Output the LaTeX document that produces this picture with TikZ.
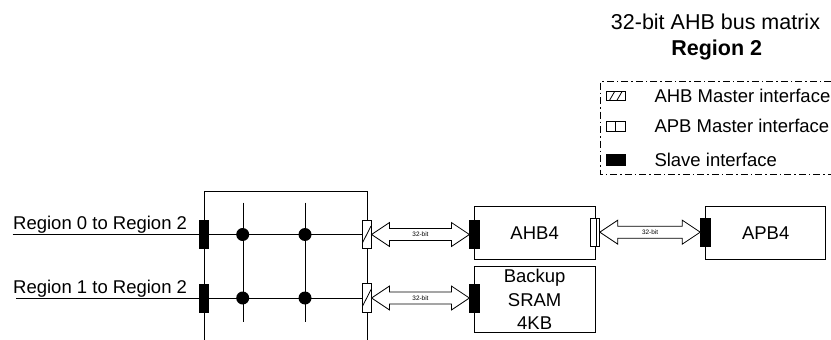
\documentclass[tikz,border=0pt]{standalone}
\usepackage{fontspec}
\setmainfont{Liberation Sans}
\usetikzlibrary{calc,backgrounds}
\newcommand\dblarr[3]{%
  \draw[busarrow] (#1) -- ++(18,-12) -- ++(0,6) -- ($(#2)+(-18,-6)$) -- ++(0,-6) -- (#2)
    -- ++(-18,12) -- ++(0,-6) -- ($(#1)+(18,6)$) -- ++(0,6) -- cycle;
  \node[bitlbl] (#3) at ($(#1)!0.5!(#2)$) {32-bit};}
\begin{document}
\begin{tikzpicture}[x=1pt,y=-1pt,line width=1pt,
  lbl/.style={font=\fontsize{18.5}{23.3}\selectfont, inner sep=0pt},
  ttl/.style={font=\fontsize{21.5}{25}\selectfont, inner sep=0pt, anchor=base},
  bitlbl/.style={font=\fontsize{6.4}{7}\selectfont, inner sep=0pt},
  box/.style={draw, fill=white, inner sep=0pt, align=center, font=\fontsize{18.5}{23.3}\selectfont},
  slave/.style={draw, fill=black, inner sep=0pt, minimum width=9.5pt, minimum height=28pt},
  ahbm/.style={draw, fill=white, inner sep=0pt, minimum width=8.7pt, minimum height=28.5pt,
    path picture={\draw[line width=0.8pt] ($(path picture bounding box.south west)!0.2!(path picture bounding box.north west)$)
      -- ($(path picture bounding box.north east)!0.2!(path picture bounding box.south east)$);}},
  apbm/.style={draw, fill=white, inner sep=0pt, minimum width=8.6pt, minimum height=27.7pt,
    path picture={\draw[line width=0.8pt] ($(path picture bounding box.north west)!0.7!(path picture bounding box.north east)$)
      -- ($(path picture bounding box.south west)!0.7!(path picture bounding box.south east)$);}},
  dot/.style={circle, fill=black, inner sep=0pt, minimum size=13pt},
  busarrow/.style={draw, fill=white, line width=0.8pt, line join=miter},
  legline/.style={line width=0.8pt, dash pattern=on 7pt off 3pt on 1.5pt off 3pt},
  legicon/.style={draw, inner sep=0pt, minimum width=18.5pt, minimum height=9.5pt}]
\useasboundingbox (0,0) rectangle (831,340);

% title
\node[ttl] (title) at (715.5,30) {32-bit AHB bus matrix};
\node[ttl, font=\fontsize{21.5}{25}\selectfont\bfseries] (region) at (716.7,55) {Region 2};

% legend
\coordinate (lg1) at (831,81);
\coordinate (lg2) at (600.7,81);
\coordinate (lg3) at (600.7,174.5);
\coordinate (lg4) at (831,174.5);
\draw[legline] (lg1) -- (lg2) -- (lg3) -- (lg4);
\node[legicon, fill=white,
  path picture={\draw[line width=0.8pt] ($(path picture bounding box.south west)!0.15!(path picture bounding box.south east)$) -- ($(path picture bounding box.north west)!0.45!(path picture bounding box.north east)$);
  \draw[line width=0.8pt] ($(path picture bounding box.south west)!0.55!(path picture bounding box.south east)$) -- ($(path picture bounding box.north west)!0.85!(path picture bounding box.north east)$);}]
  (ic1) at (615.75,96) {};
\node[legicon, fill=white,
  path picture={\draw[line width=0.8pt] (path picture bounding box.north) -- (path picture bounding box.south);}]
  (ic2) at (615.75,126.3) {};
\node[legicon, fill=black, minimum height=10.5pt] (ic3) at (615.75,160) {};
\node[lbl, anchor=base west] (lt1) at (654,102.6) {AHB Master interface};
\node[lbl, anchor=base west] (lt2) at (654,132.9) {APB Master interface};
\node[lbl, anchor=base west] (lt3) at (654,166.6) {Slave interface};

% bus matrix frame and crossbar
\coordinate (fl0) at (204,340);
\coordinate (fl1) at (204,191);
\coordinate (fr1) at (366.7,191);
\coordinate (fr0) at (366.7,340);
\coordinate (c1t) at (242.7,202.7);
\coordinate (c1b) at (242.7,321.7);
\coordinate (c2t) at (305,202.7);
\coordinate (c2b) at (305,321.7);
\coordinate (in0) at (12.7,234.5);
\coordinate (in1) at (16,298);

\node[slave] (s0) at (204,234.5) {};
\node[slave] (s1) at (204,298) {};
\node[ahbm] (hm0) at (366.7,234.5) {};
\node[ahbm] (hm1) at (366.7,298) {};
\node[dot] (d00) at (242.7,234.5) {};
\node[dot] (d01) at (305,234.5) {};
\node[dot] (d10) at (242.7,298) {};
\node[dot] (d11) at (305,298) {};

\begin{scope}[on background layer]
  \draw (fl0) -- (fl1) -- (fr1) -- (fr0);
  \draw (c1t) -- (c1b);
  \draw (c2t) -- (c2b);
  \draw (in0) -- (hm0.center);
  \draw (in1) -- (hm1.center);
\end{scope}

\node[lbl, anchor=base west] (l0) at (12.7,229.5) {Region 0 to Region 2};
\node[lbl, anchor=base west] (l1) at (12.7,293) {Region 1 to Region 2};

% peripherals
\node[box, minimum width=120.7pt, minimum height=52.3pt] (ahb) at (534.65,232.85) {AHB4};
\node[box, minimum width=120.7pt, minimum height=65.6pt] (sram) at (534.65,299.5) {Backup\\SRAM\\4KB};
\node[box, minimum width=120pt, minimum height=52.3pt] (apb) at (765.7,232.85) {APB4};
\node[slave] (sa0) at (474.65,234.5) {};
\node[slave] (sa1) at (474.65,298) {};
\node[apbm] (pm) at (595,232.15) {};
\node[slave, minimum height=27.7pt] (sp) at (705.5,232.15) {};

% buses
\dblarr{hm0.east}{sa0.west}{b0}
\dblarr{hm1.east}{sa1.west}{b1}
\dblarr{pm.east}{sp.west}{b2}
\end{tikzpicture}
\end{document}
